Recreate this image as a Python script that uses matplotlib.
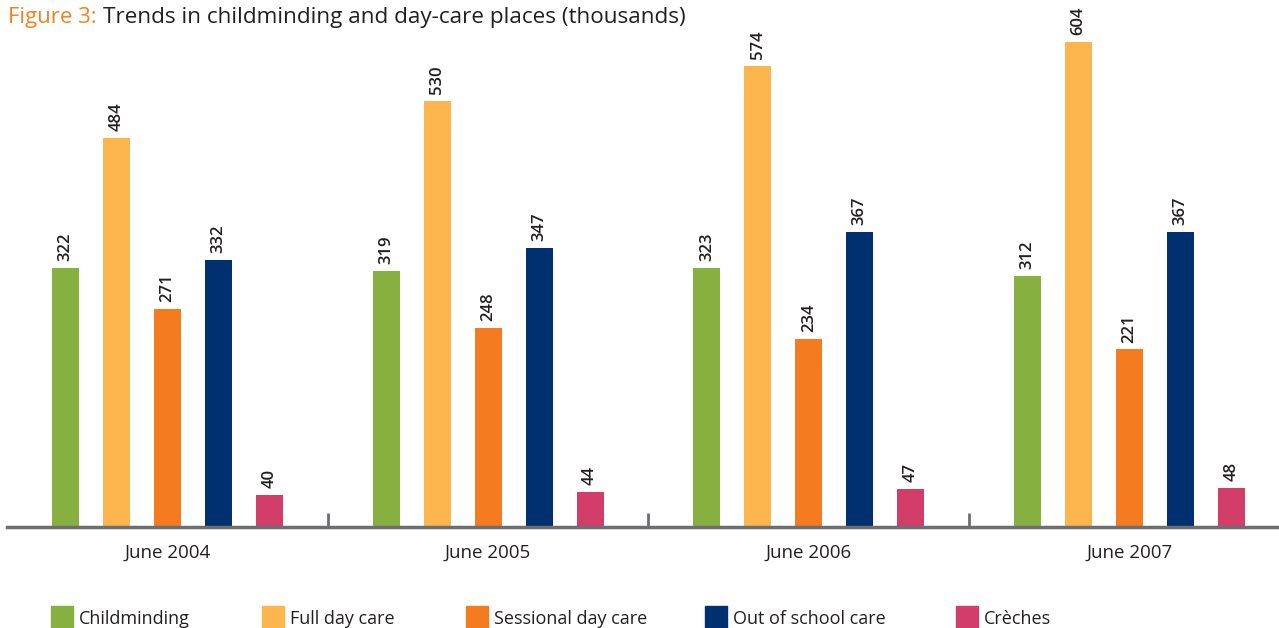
import numpy as np
import matplotlib.pyplot as plt
from matplotlib.patches import Rectangle

plt.rcParams['font.family'] = ['Open Sans', 'DejaVu Sans']

# Data (thousands of places)
years = ["June 2004", "June 2005", "June 2006", "June 2007"]
series = ["Childminding", "Full day care", "Sessional day care",
          "Out of school care", "Crèches"]
childminding = [322, 319, 323, 312]
full_day = [484, 530, 574, 604]
sessional = [271, 248, 234, 221]
out_of_school = [332, 347, 367, 367]
creches = [40, 44, 47, 48]

colors = ["#86b03f", "#fdb64d", "#f47b20", "#003070", "#d23d6a"]
values = [childminding, full_day, sessional, out_of_school, creches]

W, H = 1279, 628
fig = plt.figure(figsize=(W / 100, H / 100), dpi=100)
ax = fig.add_axes([7 / W, 101 / H, (W - 7) / W, 527 / H])

x = np.arange(len(years))
step = 0.159
width = 0.084
for i, (vals, col) in enumerate(zip(values, colors)):
    pos = x + (i - 2) * step
    bars = ax.bar(pos, vals, width=width, color=col, zorder=2)
    for b, v in zip(bars, vals):
        ax.annotate(str(v), (b.get_x() + b.get_width() / 2, v),
                    xytext=(0, 5), textcoords="offset points",
                    rotation=90, ha="center", va="bottom",
                    fontsize=12, color="#231f20", fontweight="semibold")

ax.set_xlim(-0.5, 3.466)
ax.set_ylim(0, 656)
for s in ["top", "right", "left"]:
    ax.spines[s].set_visible(False)
ax.spines["bottom"].set_color("#6d6e71")
ax.spines["bottom"].set_linewidth(2.5)
ax.set_yticks([])

# group separators as inward ticks
ax.set_xticks([0.5, 1.5, 2.5], minor=True)
ax.tick_params(axis="x", which="minor", direction="in", length=10,
               width=2, color="#6d6e71")
ax.set_xticks(x)
ax.set_xticklabels(years, fontsize=13.5, color="#231f20")
ax.tick_params(axis="x", which="major", length=0, pad=12)

# title
fig.text(8 / W, 1 - 17 / H, "Figure 3:", color="#f58220", fontsize=16,
         va="center", ha="left")
fig.text(103 / W, 1 - 17 / H,
         "Trends in childminding and day-care places (thousands)",
         color="#231f20", fontsize=16.2, va="center", ha="left")

# legend
leg_x = [51, 262, 466, 705, 956]
for lx, name, col in zip(leg_x, series, colors):
    fig.patches.append(Rectangle((lx / W, 1 - 628 / H), 22 / W, 22 / H,
                                 transform=fig.transFigure, color=col))
    fig.text((lx + 28) / W, 1 - 619 / H, name, fontsize=13,
             color="#231f20", va="center", ha="left")

fig.savefig("out.png", dpi=100)
